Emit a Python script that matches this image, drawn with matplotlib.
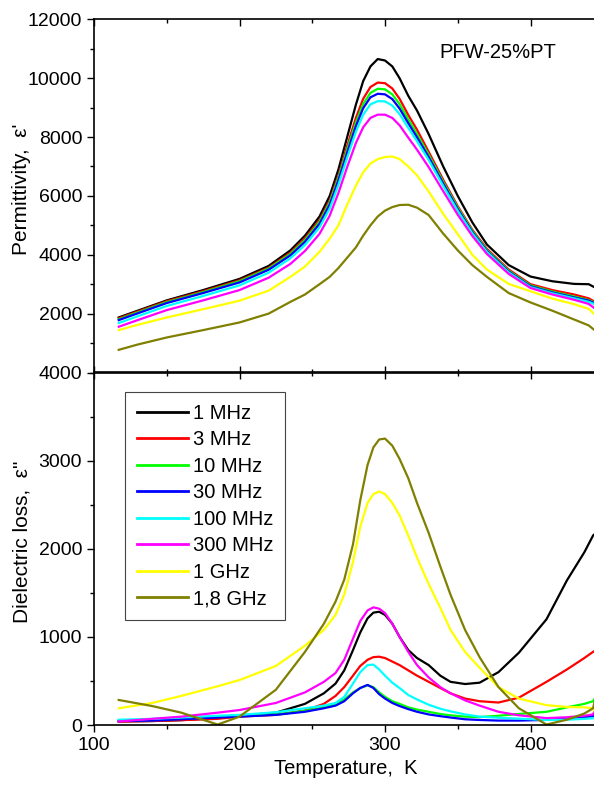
import matplotlib
matplotlib.use("Agg")
import matplotlib.pyplot as plt
from matplotlib.ticker import MultipleLocator

plt.rcParams["font.family"] = ["Liberation Sans", "DejaVu Sans"]
plt.rcParams["font.size"] = 14.5

labels = ["1 MHz", "3 MHz", "10 MHz", "30 MHz", "100 MHz", "300 MHz", "1 GHz", "1,8 GHz"]
colors = ["black", "#ff0000", "#00ff00", "#0000ff", "#00ffff", "#ff00ff", "#ffff00", "#808000"]

# permittivity eps' (top panel)
T_top = [117, 130, 150, 175, 200, 220, 235, 245, 255, 262, 268, 274, 280, 285, 290, 295,
         300, 305, 310, 316, 322, 330, 340, 350, 360, 370, 385, 400, 415, 430, 440, 445]
eps1_1MHz = [1870, 2100, 2450, 2800, 3180, 3620, 4150, 4650, 5300, 6000, 6900, 8000, 9100, 9900, 10400, 10650,
             10600, 10400, 10000, 9400, 8900, 8100, 7000, 6000, 5100, 4350, 3650, 3260, 3100, 3010, 3000, 2870]
eps1_3MHz = [1840, 2070, 2420, 2760, 3130, 3560, 4070, 4560, 5180, 5850, 6700, 7700, 8650, 9300, 9700, 9850,
             9830, 9650, 9300, 8750, 8250, 7500, 6550, 5650, 4850, 4200, 3500, 3000, 2800, 2650, 2520, 2380]
eps1_10MHz = [1810, 2040, 2390, 2730, 3100, 3530, 4030, 4500, 5120, 5780, 6620, 7580, 8500, 9120, 9500, 9640,
              9620, 9450, 9120, 8600, 8100, 7400, 6480, 5600, 4810, 4160, 3460, 2960, 2750, 2580, 2460, 2350]
eps1_30MHz = [1780, 2010, 2360, 2700, 3060, 3490, 3980, 4440, 5050, 5700, 6530, 7470, 8370, 8980, 9350, 9470,
              9450, 9290, 8970, 8470, 7990, 7320, 6420, 5550, 4770, 4130, 3430, 2930, 2720, 2550, 2440, 2330]
eps1_100MHz = [1680, 1910, 2260, 2600, 2960, 3390, 3880, 4330, 4930, 5570, 6380, 7300, 8180, 8760, 9110, 9220,
               9210, 9070, 8780, 8310, 7860, 7220, 6340, 5490, 4730, 4100, 3400, 2900, 2690, 2520, 2400, 2300]
eps1_300MHz = [1555, 1780, 2120, 2450, 2800, 3220, 3690, 4130, 4710, 5330, 6100, 6980, 7800, 8330, 8650, 8760,
               8760, 8650, 8400, 7980, 7570, 6980, 6160, 5360, 4640, 4030, 3350, 2870, 2650, 2470, 2330, 2150]
eps1_1GHz = [1440, 1620, 1870, 2150, 2440, 2780, 3250, 3600, 4100, 4550, 5000, 5700, 6350, 6800, 7100, 7250,
             7320, 7340, 7250, 7000, 6700, 6150, 5390, 4700, 4000, 3500, 3010, 2760, 2510, 2320, 2160, 1930]
eps1_18GHz = [770, 950, 1190, 1440, 1700, 2000, 2400, 2650, 3000, 3250, 3550, 3900, 4250, 4650, 5000, 5300,
              5500, 5620, 5690, 5700, 5600, 5350, 4720, 4150, 3650, 3250, 2700, 2380, 2100, 1800, 1600, 1400]

# dielectric loss eps'' (bottom panel)
T_bot = [117, 140, 160, 185, 200, 225, 245, 258, 266, 272, 278, 283, 288, 292, 296, 300,
         305, 310, 316, 322, 330, 338, 345, 355, 365, 378, 392, 411, 425, 437, 443, 445]
eps2_1MHz = [40, 45, 55, 80, 105, 140, 240, 360, 470, 620, 850, 1050, 1210, 1275, 1285, 1250,
             1150, 1000, 850, 760, 680, 560, 490, 465, 480, 600, 820, 1200, 1640, 1960, 2150, 2180]
eps2_3MHz = [40, 45, 55, 70, 95, 115, 165, 240, 330, 430, 560, 670, 740, 770, 775, 760,
             720, 680, 620, 560, 490, 420, 360, 300, 270, 255, 310, 490, 630, 760, 830, 850]
eps2_10MHz = [50, 55, 70, 90, 100, 120, 160, 200, 240, 290, 370, 420, 450, 430, 370, 320,
              270, 240, 200, 175, 150, 125, 110, 95, 90, 105, 125, 150, 200, 240, 270, 320]
eps2_30MHz = [45, 50, 65, 85, 95, 115, 150, 190, 220, 270, 360, 420, 455, 420, 350, 300,
              250, 215, 180, 150, 120, 100, 85, 65, 57, 50, 50, 58, 72, 90, 100, 130]
eps2_100MHz = [60, 70, 85, 105, 115, 145, 190, 220, 250, 320, 470, 600, 680, 685, 630, 560,
               480, 420, 340, 290, 230, 185, 155, 120, 95, 82, 72, 57, 60, 70, 76, 90]
eps2_300MHz = [40, 70, 95, 140, 170, 250, 370, 490, 590, 740, 980, 1180, 1300, 1335, 1320, 1270,
               1150, 1000, 830, 680, 540, 430, 360, 280, 220, 150, 110, 78, 88, 105, 120, 200]
eps2_1GHz = [190, 250, 330, 440, 510, 670, 900, 1080, 1250, 1480, 1850, 2250, 2520, 2620, 2650, 2620,
             2520, 2380, 2150, 1900, 1600, 1330, 1080, 830, 650, 430, 300, 225, 205, 200, 190, 120]
eps2_18GHz = [284, 215, 140, 5, 95, 400, 830, 1150, 1400, 1650, 2050, 2550, 2950, 3150, 3240, 3250,
              3170, 3020, 2800, 2520, 2180, 1800, 1480, 1080, 770, 430, 190, 5, 60, 130, 190, 330]

top_series = [eps1_1MHz, eps1_3MHz, eps1_10MHz, eps1_30MHz, eps1_100MHz, eps1_300MHz, eps1_1GHz, eps1_18GHz]
bot_series = [eps2_1MHz, eps2_3MHz, eps2_10MHz, eps2_30MHz, eps2_100MHz, eps2_300MHz, eps2_1GHz, eps2_18GHz]

W, H = 594, 787
fig = plt.figure(figsize=(W / 100, H / 100), dpi=100)
left, right = 94 / W, 597 / W
ax1 = fig.add_axes([left, 1 - 372.5 / H, right - left, (372.5 - 19.3) / H])
ax2 = fig.add_axes([left, 1 - 725 / H, right - left, (725 - 372.5) / H])

for y, c, lab in zip(top_series, colors, labels):
    ax1.plot(T_top, y, color=c, lw=1.6, label=lab)
for y, c, lab in zip(bot_series, colors, labels):
    ax2.plot(T_bot, y, color=c, lw=1.6, label=lab)

xmax = 100 + 503 / 1.455
for ax in (ax1, ax2):
    ax.set_xlim(100, xmax)
    ax.xaxis.set_major_locator(MultipleLocator(100))
    ax.xaxis.set_minor_locator(MultipleLocator(50))
    ax.spines["right"].set_visible(False)
    for s in ax.spines.values():
        s.set_linewidth(1.2)
    ax.tick_params(axis="y", which="major", direction="out", length=5, width=1, labelsize=14)
    ax.tick_params(axis="y", which="minor", direction="out", length=3, width=1)

ax1.set_ylim(0, 12000)
ax1.set_yticks([2000, 4000, 6000, 8000, 10000, 12000])
ax1.yaxis.set_minor_locator(MultipleLocator(1000))
ax1.tick_params(axis="x", which="both", direction="in", top=True, labelbottom=False)
ax1.tick_params(axis="x", which="major", length=5, width=1)
ax1.tick_params(axis="x", which="minor", length=3, width=1)
ax1.set_ylabel("Permittivity,  ε'", fontsize=15)
ax1.yaxis.set_label_coords(-0.125, 0.52)
fig.text(439 / W, 1 - 52 / H, "PFW-25%PT", ha="left", va="center", fontsize=14.5)

ax2.set_ylim(0, 4000)
ax2.yaxis.set_major_locator(MultipleLocator(1000))
ax2.yaxis.set_minor_locator(MultipleLocator(500))
ax2.tick_params(axis="x", which="major", direction="out", length=5, width=1, labelsize=14)
ax2.tick_params(axis="x", which="minor", direction="out", length=3, width=1)
sec = ax2.secondary_xaxis("top")
sec.xaxis.set_major_locator(MultipleLocator(100))
sec.xaxis.set_minor_locator(MultipleLocator(50))
sec.tick_params(axis="x", which="major", direction="in", length=5, width=1, labeltop=False)
sec.tick_params(axis="x", which="minor", direction="in", length=3, width=1)
sec.spines["top"].set_linewidth(1.2)
ax2.set_ylabel('Dielectric loss,  ε"', fontsize=15)
ax2.yaxis.set_label_coords(-0.125, 0.52)
ax2.set_xlabel("Temperature,  K", labelpad=4)

leg = ax2.legend(loc="upper left", bbox_to_anchor=(0.062, 0.945), borderaxespad=0,
                 handlelength=2.5, handletextpad=0.25, labelspacing=0.37, borderpad=0.6,
                 fancybox=False, framealpha=1, edgecolor="#444444", fontsize=14.5)
leg.get_frame().set_linewidth(0.8)
for h in leg.get_lines():
    h.set_linewidth(2)

fig.savefig("out.png", dpi=100)
